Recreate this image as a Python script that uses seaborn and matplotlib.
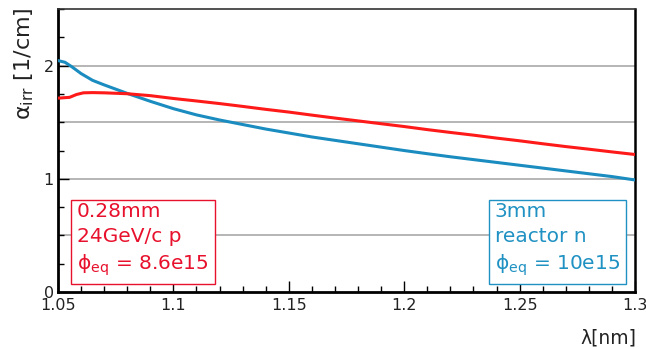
import numpy as np
import pandas as pd
import matplotlib
matplotlib.use("Agg")
import matplotlib.pyplot as plt
from matplotlib.ticker import MultipleLocator, FixedLocator
import seaborn as sns

# Absorption coefficient of irradiated silicon versus wavelength
wl_p = [1.050, 1.055, 1.058, 1.061, 1.065, 1.070, 1.080, 1.090, 1.100, 1.110,
        1.120, 1.130, 1.140, 1.150, 1.160, 1.170, 1.180, 1.190, 1.200, 1.210,
        1.220, 1.230, 1.240, 1.250, 1.260, 1.270, 1.280, 1.290, 1.300]
alpha_p = [1.713, 1.720, 1.745, 1.760, 1.762, 1.760, 1.752, 1.735, 1.710, 1.688,
           1.665, 1.640, 1.614, 1.590, 1.563, 1.537, 1.512, 1.487, 1.462, 1.435,
           1.410, 1.386, 1.360, 1.336, 1.310, 1.285, 1.262, 1.238, 1.215]

wl_n = [1.050, 1.053, 1.056, 1.060, 1.065, 1.070, 1.080, 1.090, 1.100, 1.110,
        1.120, 1.130, 1.140, 1.150, 1.160, 1.170, 1.180, 1.190, 1.200, 1.210,
        1.220, 1.230, 1.240, 1.250, 1.260, 1.270, 1.280, 1.290, 1.300]
alpha_n = [2.045, 2.030, 1.990, 1.930, 1.870, 1.830, 1.755, 1.685, 1.620, 1.565,
           1.520, 1.480, 1.440, 1.405, 1.370, 1.340, 1.310, 1.280, 1.250, 1.222,
           1.195, 1.170, 1.145, 1.120, 1.095, 1.070, 1.045, 1.020, 0.990]

series_names = ["p", "n"]
x_ticks = [1.05, 1.1, 1.15, 1.2, 1.25, 1.3]
x_ticklabels = ["1.05", "1.1", "1.15", "1.2", "1.25", "1.3"]
y_ticks = [0, 1, 2]

RED_LINE = "#ff1a1a"
RED_TEXT = "#e8112d"
BLUE_LINE = "#1a8cbf"
BLUE_TEXT = "#1f91c2"

sns.set_theme(style="white")
plt.rcParams["font.family"] = ["DejaVu Sans"]
plt.rcParams["mathtext.fontset"] = "dejavusans"
plt.rcParams["mathtext.default"] = "regular"

df = pd.concat([
    pd.DataFrame({"wl": wl_p, "alpha": alpha_p, "src": series_names[0]}),
    pd.DataFrame({"wl": wl_n, "alpha": alpha_n, "src": series_names[1]}),
])

fig = plt.figure(figsize=(6.46, 3.49), dpi=100)
ax = fig.add_axes([0.0898, 0.1633, 0.8932, 0.8107])

# horizontal grid every 0.5
for g in [0.5, 1.0, 1.5, 2.0]:
    ax.axhline(g, color="#b0b0b0", lw=1.3, zorder=0)

sns.lineplot(data=df, x="wl", y="alpha", hue="src",
             palette={"p": RED_LINE, "n": BLUE_LINE},
             hue_order=["n", "p"], linewidth=2.2, legend=False, ax=ax,
             zorder=3)

ax.set_xlim(1.05, 1.3)
ax.set_ylim(0, 2.5)

ax.xaxis.set_major_locator(FixedLocator(x_ticks))
ax.set_xticklabels(x_ticklabels)
ax.xaxis.set_minor_locator(MultipleLocator(0.01))
ax.yaxis.set_major_locator(FixedLocator(y_ticks))
ax.set_yticklabels([str(t) for t in y_ticks])
ax.yaxis.set_minor_locator(MultipleLocator(0.25))

ax.tick_params(axis="both", which="both", direction="in", bottom=True,
               left=True, top=False, right=False)
ax.tick_params(axis="both", which="major", length=8, width=1.0,
               labelsize=11.5, colors="black", labelcolor="#222222")
ax.tick_params(axis="both", which="minor", length=4.5, width=1.0,
               colors="black")
ax.tick_params(axis="x", which="major", pad=4)
ax.tick_params(axis="y", which="major", pad=3)

for side, lw in [("left", 2.0), ("bottom", 2.0), ("right", 1.8), ("top", 1.2)]:
    ax.spines[side].set_visible(True)
    ax.spines[side].set_linewidth(lw)
    ax.spines[side].set_color("black" if side != "top" else "#333333")

ax.set_xlabel("")
ax.set_ylabel("")
fig.text(0.985, 0.005, "λ[nm]", ha="right", va="bottom", fontsize=13.5,
         color="#222222")
fig.text(0.037, 0.978, "α$_{irr}$ [1/cm]", ha="center", va="top",
         rotation=90, fontsize=16, color="#222222")

ax.text(0.033, 0.318, "0.28mm\n24GeV/c p\n" + "ϕ$_{eq}$ = 8.6e15",
        transform=ax.transAxes, ha="left", va="top", fontsize=14.5,
        color=RED_TEXT, linespacing=1.38, zorder=5,
        bbox=dict(boxstyle="square,pad=0.3", fc="white", ec=RED_TEXT, lw=1.0))
ax.text(0.757, 0.318, "3mm\nreactor n\n" + "ϕ$_{eq}$ = 10e15",
        transform=ax.transAxes, ha="left", va="top", fontsize=14.5,
        color=BLUE_TEXT, linespacing=1.38, zorder=5,
        bbox=dict(boxstyle="square,pad=0.3", fc="white", ec=BLUE_TEXT, lw=1.0))

fig.savefig("out.png", dpi=100, facecolor="white")
